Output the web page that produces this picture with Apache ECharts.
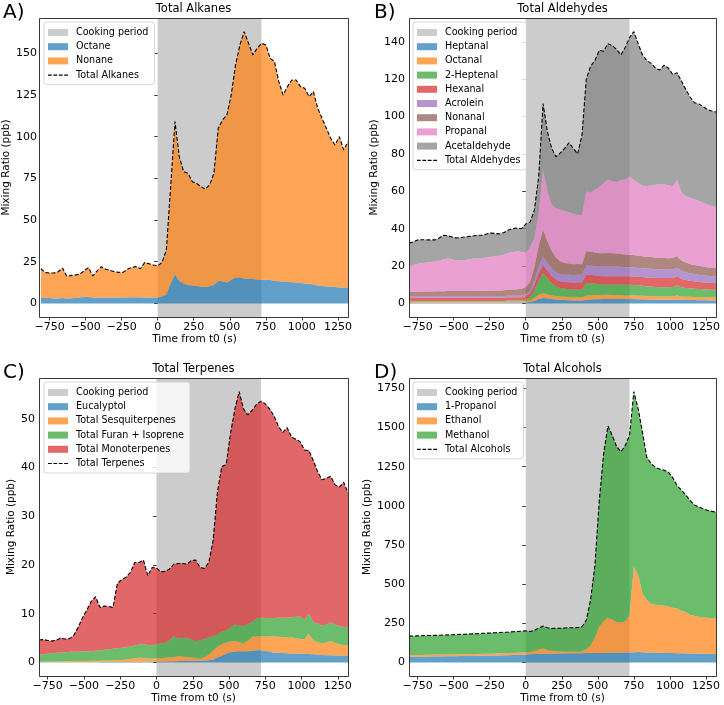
<!DOCTYPE html>
<html><head><meta charset="utf-8">
<script src="https://cdn.jsdelivr.net/npm/echarts@6/dist/echarts.min.js"></script>
<style>html,body{margin:0;padding:0;background:#fff}#c{width:724px;height:705px}</style>
</head><body><div id="c"></div>
<script>
// ---------- shared ----------
const times=[-810,-780,-750,-720,-690,-660,-630,-600,-570,-540,-510,-480,-450,-420,-390,-360,-330,-300,-270,-240,-210,-180,-150,-120,-90,-60,-30,0,30,60,90,120,150,180,210,240,270,300,330,360,390,420,450,480,510,540,570,600,630,660,690,720,750,780,810,840,870,900,930,960,990,1020,1050,1080,1110,1140,1170,1200,1230,1260,1290,1320];
const cooking=[0,720];
const xTicks=[-750,-500,-250,0,250,500,750,1000,1250];

// ---------- A) Total Alkanes ----------
const octane=[3.3,3.2,3.2,3.0,3.0,3.2,3.0,3.1,3.3,3.6,4.0,3.8,3.5,3.4,3.6,3.5,3.4,3.4,3.5,3.5,3.6,3.7,3.7,3.6,3.5,3.4,3.5,3.6,4.2,5.5,12,17.5,13.5,12,11,10.8,10.5,10,9.8,10.3,11,13.5,13.2,12.5,14,15.5,15.5,15,14.8,14.6,14.4,14.2,14.2,14,13.6,13.3,13.2,13,12.7,12.5,12.2,12,11.8,11.3,10.8,10.5,10.2,10,9.8,9.6,9.5,9.4];
const nonane=[17.5,15.3,15.0,15.2,16.0,18.0,13.2,13.7,13.7,14.0,15.5,17.7,13.0,16.1,18.4,17.0,16.4,15.6,15.1,15.1,16.9,17.8,18.5,17.2,21.0,20.4,19.5,18.9,20.3,26.5,58,91.5,74.5,67,67,62.2,61.5,60,58.7,60.7,67,91.5,96.8,100.5,111,127.5,139.5,148,141.2,134.4,138.6,141.8,140.8,133,131.4,119.7,111.8,117,121.3,121.5,117.8,117,112.2,115.7,106.2,100.5,94.8,89,85.2,90.4,82.5,87.6];
const alkTicks=[0,25,50,75,100,125,150];

// ---------- B) Total Aldehydes ----------
const heptanal=[0.4,0.4,0.4,0.4,0.4,0.4,0.4,0.4,0.4,0.4,0.4,0.4,0.4,0.4,0.4,0.4,0.4,0.4,0.4,0.4,0.4,0.4,0.4,0.5,0.5,0.5,0.5,0.5,0.7,1.4,2.4,2.9,2.6,2.3,2.1,2.0,1.8,1.7,1.6,1.5,1.4,2.0,2.1,2.2,2.2,2.3,2.3,2.3,2.3,2.3,2.3,2.3,2.3,2.2,2.2,2.1,2.1,2.0,2.0,2.0,2.0,2.0,2.1,1.9,1.9,1.8,1.8,1.7,1.7,1.7,1.6,1.6];
const octanal=[0.5,0.5,0.5,0.5,0.5,0.5,0.5,0.5,0.5,0.5,0.5,0.5,0.5,0.5,0.5,0.5,0.5,0.5,0.5,0.5,0.5,0.5,0.5,0.5,0.5,0.5,0.5,0.6,0.9,1.6,2.2,2.5,2.2,2.0,1.8,1.75,1.7,1.7,1.7,1.8,1.8,2.3,2.3,2.3,2.3,2.3,2.3,2.2,2.2,2.1,2.0,2.0,2.0,1.9,1.9,1.8,1.8,1.75,1.75,1.75,1.75,1.75,2.1,1.8,1.7,1.7,1.6,1.6,1.6,1.6,1.6,1.6];
const heptenal=[0.4,0.4,0.4,0.4,0.4,0.4,0.4,0.4,0.4,0.4,0.4,0.4,0.4,0.4,0.4,0.4,0.4,0.4,0.4,0.4,0.4,0.4,0.4,0.5,0.5,0.5,0.5,0.8,1.6,4,7.5,10.9,8.5,6.5,5.2,4.5,4.3,4.2,4.1,4.1,4.1,6.6,6.4,6.0,5.7,5.5,5.4,5.5,5.6,5.7,5.7,5.7,5.6,5.5,5.3,5.2,5.1,5.0,4.9,4.85,4.9,5.0,5.4,4.9,4.7,4.6,4.5,4.4,4.3,4.2,4.1,4.1];
const hexanal=[1.8,1.8,1.8,1.8,1.8,1.8,1.8,1.8,1.8,1.8,1.8,1.8,1.8,1.8,1.8,1.8,1.8,1.8,1.8,1.8,1.8,1.8,1.8,1.8,1.8,1.8,1.8,2.0,2.3,3.0,4.0,4.4,4.2,3.9,3.7,3.6,3.6,3.7,3.8,3.9,4.0,4.5,4.5,4.5,4.5,4.5,4.5,4.5,4.5,4.5,4.5,4.5,4.5,4.6,4.7,4.8,4.9,5.0,5.0,5.0,4.9,4.9,4.9,4.5,4.2,4.0,3.9,3.8,3.7,3.7,3.6,3.6];
const acrolein=[0.8,0.8,0.8,0.8,0.8,0.8,0.8,0.8,0.8,0.8,0.8,0.8,0.8,0.8,0.8,0.8,0.8,0.8,0.8,0.8,0.8,0.8,0.8,0.8,0.8,0.8,0.8,0.9,1.2,2.5,3.8,4.5,4.3,4.0,3.9,3.9,3.9,4.0,4.0,4.1,4.1,5.0,5.0,5.0,5.0,5.1,5.3,5.2,5.1,5.0,4.9,4.8,4.8,4.7,4.7,4.6,4.6,4.5,4.5,4.5,4.5,4.6,4.6,4.4,4.2,4.0,3.9,3.8,3.7,3.6,3.6,3.6];
const nonanal=[2.4,2.4,2.5,2.5,2.5,2.5,2.6,2.6,2.6,2.7,2.7,2.7,2.7,2.7,2.8,2.8,2.8,2.9,2.9,3.0,3.0,3.0,3.1,3.2,3.3,3.5,3.7,4.0,4.8,7.0,11,14.3,11.5,9.5,7.8,6.8,6.3,6.0,5.8,5.7,5.6,7.5,7.4,7.3,7.2,7.1,7.2,7.1,7.0,6.9,6.8,6.8,6.7,6.6,6.5,6.4,6.3,6.2,6.2,6.2,6.1,6.1,6.3,5.5,5.2,5.0,4.9,4.8,4.7,4.6,4.5,4.5];
const propanal=[13.4,14.2,14.8,15.2,15.4,15.8,16.0,16.4,17.1,17.4,16.9,16.4,16.4,16.7,16.9,17.3,17.3,17.5,17.8,18.1,18.3,18.6,19.2,19.7,20.1,20.3,19.7,18.2,18.5,15.5,17.1,32.2,26.7,24.8,26.5,27.6,27.9,27.5,27.0,26.4,26.2,32.1,31.5,33.7,35.6,37.7,39.3,38.7,38.3,39.5,40.3,41.5,40.1,39.0,37.7,37.9,38.2,39.0,39.3,39.4,39.1,38.1,40.6,36.5,35.6,35.4,35.2,34.9,34.3,33.6,33.2,32.5];
const acetaldehyde=[12.5,12.5,12.8,12.5,12.2,11.8,11.5,12.1,12.9,12.2,12.0,12.0,12.3,12.3,12.3,12.2,12.5,12.2,12.6,12.7,12.2,11.7,11.8,12.3,12.5,12.5,12.5,15.5,13.5,15,20,35.3,32,30,27.5,30.4,33.5,37.2,35,32.5,42.8,60,67.8,69,73,70.5,72.7,72.5,71,67,70.5,74.7,79.5,74.5,70,67.2,65.5,62.5,61.3,63.8,62.7,60,57.5,59.5,57,54,51.6,51.8,51.5,50.8,50.8,51];
const aldTicks=[0,20,40,60,80,100,120,140];

// ---------- C) Total Terpenes ----------
const eucalyptol=[0.05,0.05,0.05,0.05,0.05,0.05,0.05,0.05,0.06,0.06,0.06,0.06,0.06,0.06,0.08,0.08,0.08,0.08,0.08,0.08,0.08,0.1,0.1,0.12,0.15,0.15,0.2,0.2,0.2,0.22,0.25,0.25,0.28,0.3,0.3,0.3,0.35,0.35,0.4,0.45,0.6,1.0,1.4,1.8,2.1,2.2,2.3,2.3,2.3,2.4,2.5,2.5,2.4,2.2,2.0,2.0,1.95,1.9,1.85,1.85,1.8,1.8,1.75,1.7,1.6,1.55,1.5,1.5,1.45,1.45,1.45,1.45];
const sesquiterpenes=[0.1,0.1,0.15,0.15,0.15,0.15,0.2,0.2,0.24,0.24,0.24,0.24,0.29,0.29,0.27,0.32,0.32,0.32,0.37,0.42,0.52,0.6,0.7,0.88,0.75,0.65,0.55,0.6,0.7,0.73,0.75,0.85,1.02,0.9,0.8,0.7,0.55,0.4,0.7,1.15,1.8,2.2,2.4,2.3,2.2,2.2,1.9,1.6,2.2,2.9,2.9,2.9,2.9,3.2,3.4,3.3,3.25,3.2,3.25,3.15,3.0,2.9,4.15,2.8,2.6,2.35,2.6,2.9,2.55,2.25,2.15,2.05];
const furanIsoprene=[1.5,1.55,1.6,1.7,1.8,1.8,1.85,1.95,1.9,1.9,2.0,2.0,1.95,2.05,2.15,2.2,2.3,2.4,2.45,2.5,2.5,2.6,2.7,2.7,2.9,2.8,2.75,2.9,3.1,3.1,3.5,4.3,3.6,3.8,4.0,3.7,3.5,3.75,3.7,3.5,3.0,2.6,2.5,2.5,2.9,3.4,3.4,3.6,3.4,3.0,3.6,3.8,3.8,3.7,3.7,3.9,4.0,4.1,4.2,4.4,4.7,4.0,4.1,3.8,3.8,3.7,3.7,3.8,3.8,3.8,3.7,3.6];
const monoterpenes=[2.95,3.0,2.7,2.5,2.6,3.0,2.7,2.7,3.4,5.0,6.9,8.5,10.2,11.1,8.8,9.0,8.8,8.5,13.3,14.0,14.4,15.2,17.0,16.8,17.2,14.2,16.0,15.7,14.6,14.65,14.7,14.8,15.4,15.3,15.1,16.2,16.6,15.0,14.5,15.4,19.6,29.2,33.9,34.0,39.8,44.2,48.0,44.5,42.9,43.5,44.0,44.4,44.0,42.9,41.5,39.3,38.0,39.0,37.0,36.4,35.8,34.9,33.5,33.2,31.2,29.9,30.0,30.0,28.7,28.5,29.7,27.7];
const terTicks=[0,10,20,30,40,50];

// ---------- D) Total Alcohols ----------
const propanol=[36,36,37,37,37,38,38,38,39,39,40,40,41,41,42,42,43,43,44,44,45,45,46,46,47,47,48,50,52,54,56,56,56,56,56,57,57,58,58,59,59,60,60,61,61,61,62,62,62,62,63,64,65,66,65,64,63,62,62,61,60,60,59,58,57,57,56,56,55,55,55,55];
const ethanol=[11,11,11,11,12,11,12,12,11,12,11,12,11,12,11,12,11,12,12,12,12,13,13,14,14,15,15,14,14,18,26,33,22,18,16,13,11,10,10,9,11,25,50,99,169,204,223,213,196,193,199,236,545,494,375,336,312,306,304,301,298,290,286,272,263,248,240,236,233,230,228,226];
const methanol=[121,122,122,123,123,123,123,124,125,125,126,126,127,127,129,129,130,131,131,132,133,133,134,134,135,136,137,138,132,133,138,143,144,143,146,148,152,154,154,155,158,185,290,460,800,1065,1225,1175,1122,1090,1123,1150,1120,1060,1030,910,895,877,869,866,857,830,785,770,750,730,709,701,694,687,682,679];
const alcTicks=[0,250,500,750,1000,1250,1500,1750];

// ---------- styling ----------
const COL={blue:'rgba(31,119,180,0.7)',orange:'rgba(255,127,14,0.7)',green:'rgba(44,160,44,0.7)',red:'rgba(214,39,40,0.7)',purple:'rgba(148,103,189,0.7)',brown:'rgba(140,86,75,0.7)',pink:'rgba(227,119,194,0.7)',grey:'rgba(127,127,127,0.7)'};
const SPAN='rgba(128,128,128,0.4)';
const DASH_ICON='path://M0,0h37v12h-37z M53,0h37v12h-37z M106,0h37v12h-37z M159,0h37v12h-37z';
const FONT='DejaVu Sans';
const minus=v=>v<0?'\u2212'+Math.abs(v):String(v);

const panels=[
 {title:'Total Alkanes',letter:'A)',L:39,T:18,W:309,H:299,yGap:28,lg:[44,22],ticks:alkTicks,total:'Total Alkanes',
  layers:[['Octane',octane,'blue'],['Nonane',nonane,'orange']]},
 {title:'Total Aldehydes',letter:'B)',L:409,T:18,W:307,H:299,yGap:29,lg:[413,22],ticks:aldTicks,total:'Total Aldehydes',
  layers:[['Heptanal',heptanal,'blue'],['Octanal',octanal,'orange'],['2-Heptenal',heptenal,'green'],['Hexanal',hexanal,'red'],['Acrolein',acrolein,'purple'],['Nonanal',nonanal,'brown'],['Propanal',propanal,'pink'],['Acetaldehyde',acetaldehyde,'grey']]},
 {title:'Total Terpenes',letter:'C)',L:39,T:378,W:309,H:298,yGap:21.5,lg:[44,382],ticks:terTicks,total:'Total Terpenes',
  layers:[['Eucalyptol',eucalyptol,'blue'],['Total Sesquiterpenes',sesquiterpenes,'orange'],['Total Furan + Isoprene',furanIsoprene,'green'],['Total Monoterpenes',monoterpenes,'red']]},
 {title:'Total Alcohols',letter:'D)',L:409,T:378,W:307,H:298,yGap:35,lg:[413,382],ticks:alcTicks,total:'Total Alcohols',
  layers:[['1-Propanol',propanol,'blue'],['Ethanol',ethanol,'orange'],['Methanol',methanol,'green']]}
];

const option={animation:false,textStyle:{fontFamily:FONT},grid:[],xAxis:[],yAxis:[],series:[],legend:[],graphic:[]};

panels.forEach((p,k)=>{
  const totals=times.map((t,i)=>p.layers.reduce((s,l)=>s+l[1][i],0));
  const ymax=Math.max(...totals);
  const cx=2*k, vx=2*k+1;
  option.grid.push({left:p.L,top:p.T,width:p.W,height:p.H,containLabel:false});
  // hidden category axis (evenly spaced sample times) used for stacking
  option.xAxis.push({type:'category',gridIndex:k,data:times.map(String),boundaryGap:false,show:false,position:'top'});
  // visible value axis for ticks / labels / cooking span
  option.xAxis.push({type:'value',gridIndex:k,min:times[0],max:times[times.length-1],position:'bottom',
    name:'Time from t0 (s)',nameLocation:'middle',nameGap:15.5,nameTextStyle:{fontSize:10.5,color:'#000',fontFamily:FONT},
    axisLine:{show:false},splitLine:{show:false},
    axisTick:{show:true,length:3.5,inside:false,customValues:xTicks,lineStyle:{color:'#222',width:0.9}},
    axisLabel:{customValues:xTicks,formatter:minus,fontSize:11,color:'#000',margin:4.5,fontFamily:FONT}});
  option.yAxis.push({type:'value',gridIndex:k,min:-0.05*ymax,max:1.05*ymax,
    name:'Mixing Ratio (ppb)',nameLocation:'middle',nameGap:p.yGap,nameTextStyle:{fontSize:10.5,color:'#000',fontFamily:FONT},
    axisLine:{show:false},splitLine:{show:false},
    axisTick:{show:true,length:3.5,inside:false,customValues:p.ticks,lineStyle:{color:'#222',width:0.9}},
    axisLabel:{customValues:p.ticks,formatter:minus,fontSize:11,color:'#000',margin:4,fontFamily:FONT}});
  option.series.push({type:'line',name:'Cooking period',xAxisIndex:vx,yAxisIndex:k,data:[],z:1,
    itemStyle:{color:SPAN},lineStyle:{width:0},
    markArea:{silent:true,itemStyle:{color:SPAN},data:[[{xAxis:cooking[0]},{xAxis:cooking[1]}]]}});
  p.layers.forEach(l=>{
    option.series.push({type:'line',name:l[0],xAxisIndex:cx,yAxisIndex:k,stack:'s'+k,symbol:'none',z:3,
      data:l[1],
      itemStyle:{color:COL[l[2]]},lineStyle:{width:0,opacity:0},areaStyle:{color:COL[l[2]],opacity:1}});
  });
  option.series.push({type:'line',name:p.total,xAxisIndex:cx,yAxisIndex:k,symbol:'none',z:5,
    data:totals,itemStyle:{color:'#000'},
    lineStyle:{color:'#000',width:1.1,type:[4,2]}});
  option.legend.push({orient:'vertical',left:p.lg[0],top:p.lg[1],itemWidth:20,itemHeight:7,itemGap:3.2,
    padding:[5,6,4,4],backgroundColor:'rgba(255,255,255,0.8)',borderColor:'#cccccc',borderWidth:0.8,borderRadius:3,
    textStyle:{fontSize:9.6,lineHeight:11,color:'#000',fontFamily:FONT,padding:[0,0,0,3]},
    selectedMode:false,
    data:[{name:'Cooking period',icon:'rect'}].concat(p.layers.map(l=>({name:l[0],icon:'rect'}))).concat([{name:p.total,icon:DASH_ICON}])});
  option.graphic.push({type:'rect',silent:true,z:100,shape:{x:p.L+0.5,y:p.T+0.5,width:p.W,height:p.H},style:{fill:'rgba(0,0,0,0)',stroke:'#222',lineWidth:0.9}});
  option.graphic.push({type:'text',silent:true,z:100,x:p.L+p.W/2,y:p.T-8.5,style:{text:p.title,font:'11.5px "DejaVu Sans"',fill:'#000',textAlign:'center',textVerticalAlign:'middle'}});
  option.graphic.push({type:'text',silent:true,z:100,x:(k%2===0?3:374),y:p.T-5,style:{text:p.letter,font:'20px "DejaVu Sans"',fill:'#000',textAlign:'left',textVerticalAlign:'middle'}});
});

const chart=echarts.init(document.getElementById('c'),null,{renderer:'canvas'});
chart.setOption(option);
</script>
</body></html>
